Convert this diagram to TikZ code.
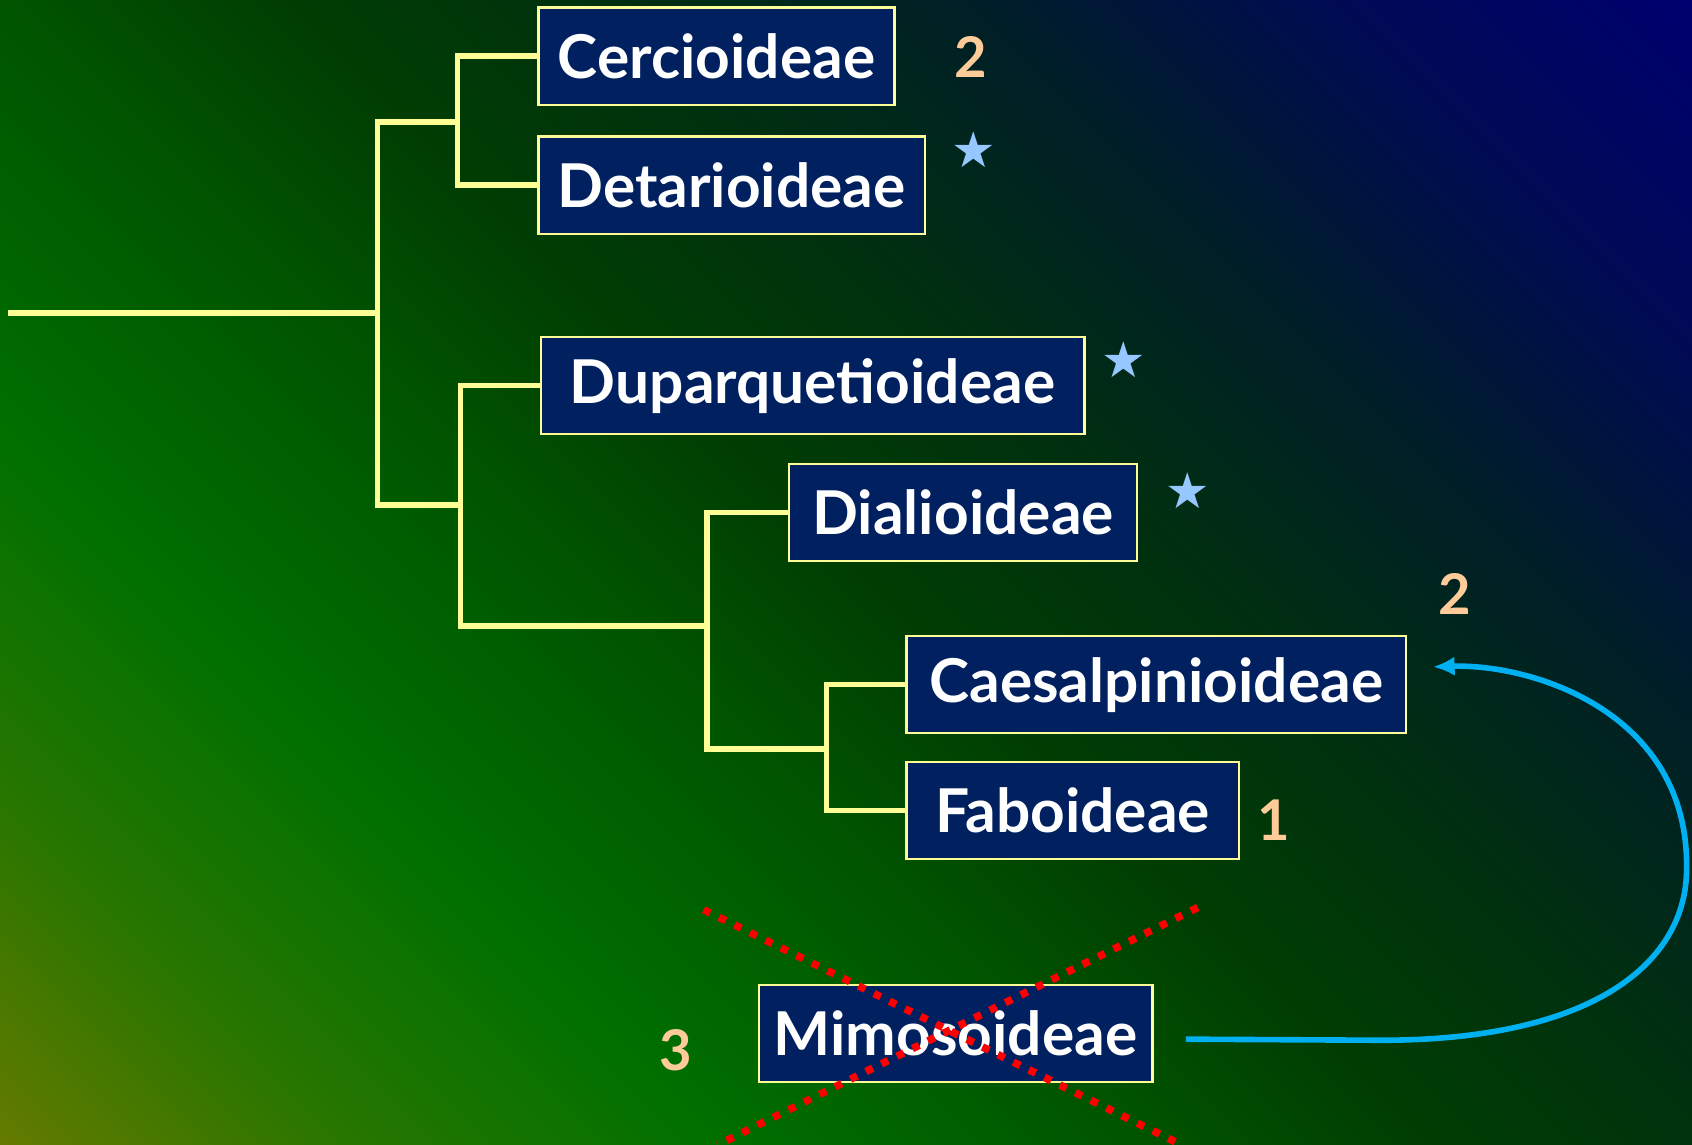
\documentclass[tikz,border=0pt]{standalone}
\usepackage{fontspec}
\setmainfont{Lato}
\newfontfamily\symbfont{DejaVu Sans}
\usetikzlibrary{arrows.meta,calc}

\definecolor{fondbleu}{RGB}{0,32,96}
\definecolor{jaunepale}{RGB}{255,255,150}
\definecolor{peche}{RGB}{255,204,153}
\definecolor{bleuclair}{RGB}{150,200,255}
\definecolor{cyanfleche}{RGB}{0,176,240}
\definecolor{fondA}{RGB}{100,122,0}
\definecolor{fondB}{RGB}{40,118,0}
\definecolor{fondC}{RGB}{0,112,0}
\definecolor{fondD}{RGB}{0,85,0}
\definecolor{fondE}{RGB}{0,62,2}
\definecolor{fondF}{RGB}{0,48,15}
\definecolor{fondG}{RGB}{0,30,40}
\definecolor{fondH}{RGB}{0,10,85}
\definecolor{fondI}{RGB}{0,0,110}

\pgfdeclarehorizontalshading{fonddegrade}{100bp}{color(0bp)=(fondA); color(14.6bp)=(fondA); color(23.1bp)=(fondB); color(32.3bp)=(fondC); color(42.9bp)=(fondD); color(50bp)=(fondE); color(58.5bp)=(fondF); color(67.7bp)=(fondG); color(76.9bp)=(fondH); color(85.4bp)=(fondI); color(100bp)=(fondI)}

\begin{document}
\begin{tikzpicture}[x=0.5pt, y=-0.5pt, >=Latex]

        % Styles
        \tikzstyle{taxon}=[rectangle, draw=jaunepale, line width=1pt, fill=fondbleu, text=white, font=\fontsize{28}{34}\selectfont\bfseries, minimum height=45pt, inner sep=0pt]
        \tikzstyle{branche}=[draw=jaunepale, line width=2.5pt, line cap=rect]
        \tikzstyle{nombre}=[text=peche, font=\fontsize{26}{30}\selectfont\bfseries]
        \tikzstyle{etoile}=[text=bleuclair, font=\symbfont\fontsize{23}{26}\selectfont]
        \tikzstyle{croix}=[draw=red, line width=3.5pt, dash pattern=on 3.5pt off 4.5pt]
        \tikzstyle{renvoi}=[draw=cyanfleche, line width=2.6pt, -{Latex[length=10pt,width=9pt]}]

        % Fond
        \useasboundingbox (0,0) rectangle (1568,1061);
        \shade[shading=fonddegrade, shading angle=45] (0,0) rectangle (1568,1061);

        % Nœuds
        \node[taxon, minimum width=165pt] (cerc) at (664,52) {Cercioideae};
        \node[taxon, minimum width=179pt] (detar) at (678,171.5) {Detarioideae};
        \node[taxon, minimum width=252pt] (dupar) at (753,357.5) {Duparquetioideae};
        \node[taxon, minimum width=161.5pt] (dial) at (892.5,475) {Dialioideae};
        \node[taxon, minimum width=231.5pt] (caes) at (1071.5,634.5) {Caesalpinioideae};
        \node[taxon, minimum width=154pt] (fabo) at (994,751) {Faboideae};
        \node[taxon, minimum width=182.5pt] (mimo) at (885.5,957.5) {Mimosoideae};

        % Embranchements
        \coordinate (racine) at (10,290);
        \coordinate (j0) at (350,290);
        \coordinate (jA) at (424,113);
        \coordinate (jB) at (427,468);
        \coordinate (jC) at (655,580);
        \coordinate (jD) at (766,694);

        \draw[branche] (racine) -- (j0);
        \draw[branche] (j0) |- (jA);
        \draw[branche] (j0) |- (jB);
        \draw[branche] (jA) |- (cerc.west);
        \draw[branche] (jA) |- (detar.west);
        \draw[branche] (jB) |- (dupar.west);
        \draw[branche] (jB) |- (jC);
        \draw[branche] (jC) |- (dial.west);
        \draw[branche] (jC) |- (jD);
        \draw[branche] (jD) |- (caes.west);
        \draw[branche] (jD) |- (fabo.west);

        % Marques
        \node[nombre] (nbcerc) at (900,53) {2};
        \node[etoile] (etdetar) at (902,139) {★};
        \node[etoile] (etdupar) at (1041,333) {★};
        \node[etoile] (etdial) at (1101,455) {★};
        \node[nombre] (nbcaes) at (1348,550) {2};
        \node[nombre] (nbfabo) at (1180,760) {1};
        \node[nombre] (nbmimo) at (626,973) {3};

        % Croix
        \draw[croix] (652,843) -- (1095,1061);
        \draw[croix] (1110,841) -- (665,1061);

        % Flèche
        \coordinate (depart) at ($(mimo.east)+(30,5.5)$);
        \coordinate (arrivee) at ($(caes.east)+(24,-16.5)$);
        \draw[renvoi] (depart) -- (1280,964) .. controls (1480,964) and (1563,890) .. (1563,805) .. controls (1565,660) and (1420,615) .. (arrivee);

    \end{tikzpicture}
\end{document}
